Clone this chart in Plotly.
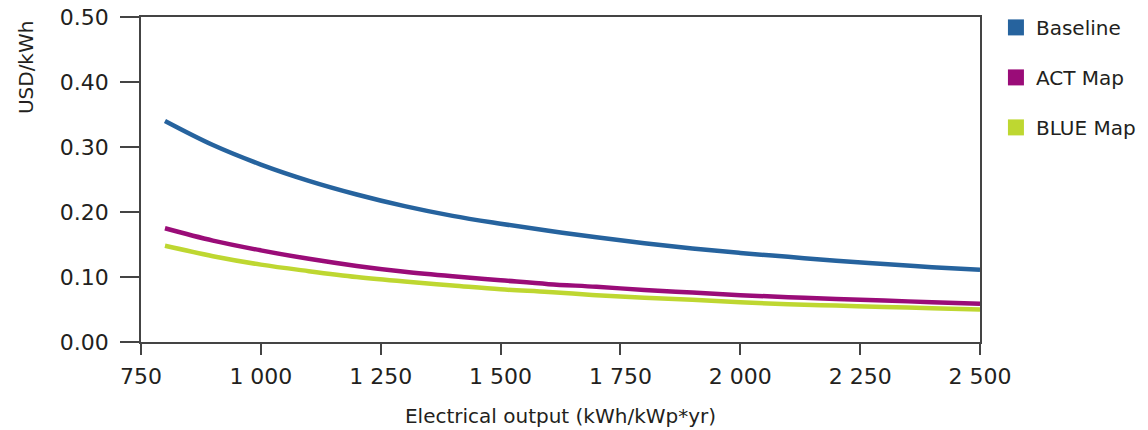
import plotly.graph_objects as go

output_kwh = [800, 900, 1000, 1100, 1200, 1300, 1400, 1500, 1600, 1700,
              1800, 1900, 2000, 2100, 2200, 2300, 2400, 2500]
baseline = [0.340, 0.303, 0.273, 0.248, 0.227, 0.209, 0.194, 0.182, 0.171, 0.161,
            0.152, 0.144, 0.137, 0.131, 0.125, 0.120, 0.115, 0.111]
act_map = [0.175, 0.156, 0.141, 0.128, 0.117, 0.108, 0.101, 0.095, 0.089, 0.085,
           0.080, 0.076, 0.072, 0.069, 0.066, 0.064, 0.061, 0.059]
blue_map = [0.148, 0.132, 0.119, 0.109, 0.100, 0.093, 0.087, 0.081, 0.077, 0.072,
            0.068, 0.065, 0.061, 0.058, 0.056, 0.054, 0.052, 0.050]

series_names = ["Baseline", "ACT Map", "BLUE Map"]
series_values = [baseline, act_map, blue_map]
colors = ["#26639e", "#9a0c78", "#bed731"]

x_ticks = [750, 1000, 1250, 1500, 1750, 2000, 2250, 2500]
x_ticktext = ["750", "1 000", "1 250", "1 500", "1 750", "2 000", "2 250", "2 500"]
y_ticks = [0.0, 0.1, 0.2, 0.3, 0.4, 0.5]
y_ticktext = ["0.00", "0.10", "0.20", "0.30", "0.40", "0.50"]

FONT = "DejaVu Sans"
TXT = "#231f20"
AX = "#444444"

fig = go.Figure()
for name, vals, col in zip(series_names, series_values, colors):
    fig.add_trace(go.Scatter(
        x=output_kwh, y=vals, mode="lines", name=name,
        line=dict(color=col, width=4.5, shape="spline"),
        showlegend=False, hoverinfo="skip"))
for i, (name, col) in enumerate(zip(series_names, colors)):
    fig.add_trace(go.Scatter(
        x=[None], y=[None], mode="markers", name=name,
        marker=dict(symbol="square", size=16, color=col),
        legendgroup=f"g{i}", showlegend=True))

fig.update_layout(
    width=1148, height=430,
    margin=dict(l=141, r=168, t=17, b=88, autoexpand=False),
    paper_bgcolor="white", plot_bgcolor="white",
    font=dict(family=FONT, size=20, color=TXT),
    legend=dict(x=1.019, xanchor="left", y=1.028, yanchor="top",
                font=dict(family=FONT, size=20, color=TXT),
                tracegroupgap=21, itemwidth=30, bgcolor="rgba(0,0,0,0)"),
    annotations=[dict(text="USD/kWh", x=-0.137, xref="paper", y=0.423, yref="y",
                      showarrow=False, textangle=-90, xanchor="center", yanchor="middle",
                      font=dict(family=FONT, size=20, color=TXT))],
)

fig.update_xaxes(
    range=[750, 2500], tickvals=x_ticks, ticktext=x_ticktext,
    showline=True, linecolor=AX, linewidth=1.5, mirror=True,
    ticks="outside", ticklen=11, tickcolor=AX, tickwidth=1.5,
    ticklabelstandoff=3,
    showgrid=False, zeroline=False, automargin=False,
    title=dict(text="Electrical output (kWh/kWp*yr)", standoff=21,
               font=dict(family=FONT, size=20, color=TXT)),
    tickfont=dict(family=FONT, size=22, color=TXT))
fig.update_yaxes(
    range=[0, 0.5], tickvals=y_ticks, ticktext=y_ticktext,
    showline=True, linecolor=AX, linewidth=1.5, mirror=True,
    ticks="outside", ticklen=19, tickcolor=AX, tickwidth=1.5,
    ticklabelstandoff=7,
    showgrid=False, zeroline=False, automargin=False,
    tickfont=dict(family=FONT, size=22, color=TXT))

fig.write_html("out.html",
               config={"displayModeBar": False},
               post_script="document.body.style.margin='0';")
